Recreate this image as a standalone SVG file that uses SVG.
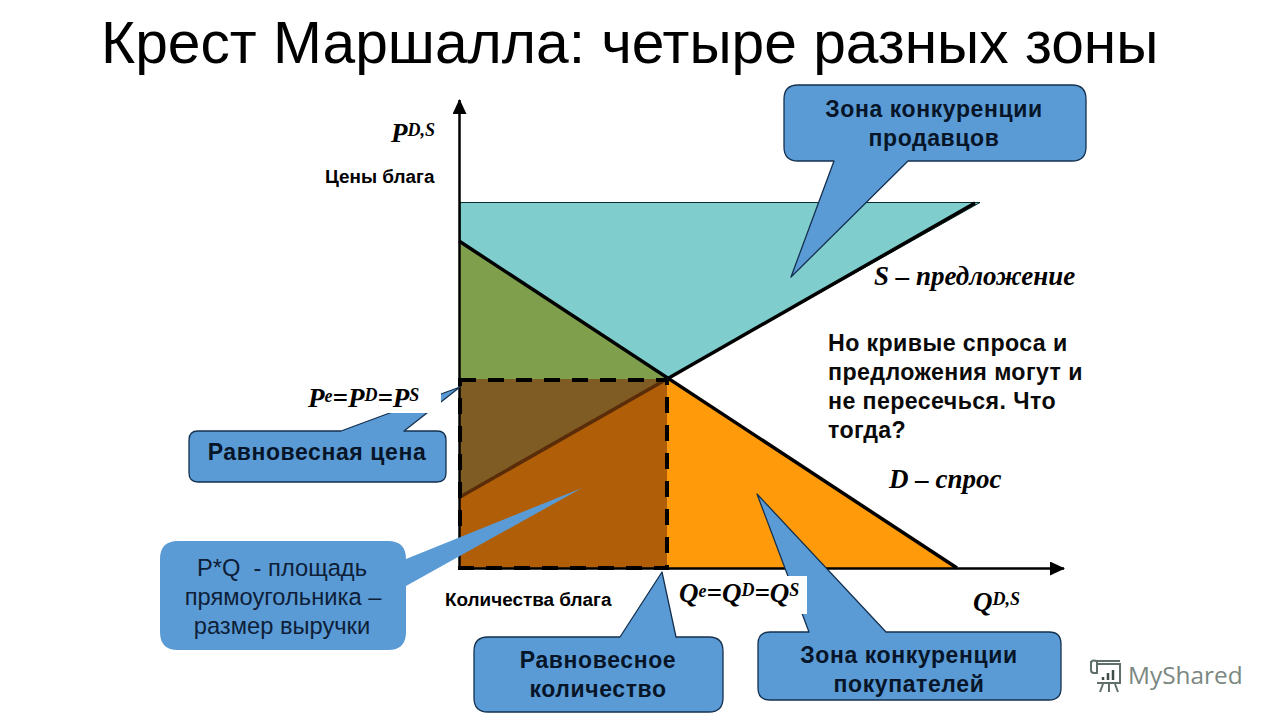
<svg xmlns="http://www.w3.org/2000/svg" width="1280" height="720" viewBox="0 0 1280 720">
<style>
text{font-family:"Liberation Sans",Arial,sans-serif;fill:#000}
.title{font-size:58.700px}
.call{fill:#5b9bd5;stroke:#14304f;stroke-width:1.3;stroke-linejoin:round}
.nostroke{stroke:none}
.cb{font-size:23px;font-weight:bold;fill:#071528;text-anchor:middle;letter-spacing:.6px}
.cr{font-size:23.700px;fill:#0d2038;text-anchor:middle;white-space:pre}
.note{font-size:23.200px;font-weight:bold;fill:#0a0a0a;letter-spacing:.4px}
.ax{font-size:18.900px;font-weight:bold}
.m{font-family:"Liberation Serif","Times New Roman",serif;font-weight:bold;font-style:italic;font-size:27px}
.s{font-size:18px}
</style>
<defs>
<marker id="arr" markerUnits="userSpaceOnUse" markerWidth="15" markerHeight="14" refX="14" refY="7" orient="auto"><path d="M0 0L15 7L0 14Z" fill="#000"/></marker>
</defs>
<text class="title" x="101" y="63">Крест Маршалла: четыре разных зоны</text>
<g id="zones">
<path d="M460 202.500H980L667 379L460 242Z" fill="#7fcdcd" stroke="#0b2a2a" stroke-width="1"/>
<path d="M460 243L667 379H460Z" fill="#7f9f4d"/>
<path d="M460 379H667L460 497Z" fill="#7f5c24"/>
<path d="M460 497L667 379V568H460Z" fill="#b05f08"/>
<path d="M667 379L957 568H667Z" fill="#ff9a0a"/>
</g>
<g id="connectors" fill="none">
<path d="M460 497L667 379" stroke="#5a2c08" stroke-width="3.500"/>
<path d="M667 379L975 203" stroke="#000" stroke-width="3.500"/>
<path d="M459 241L957 568" stroke="#000" stroke-width="3.500"/>
<path d="M459.500 570V100" stroke="#000" stroke-width="2.500" marker-end="url(#arr)"/>
<path d="M459 568.500H1064" stroke="#000" stroke-width="2.500" marker-end="url(#arr)"/>
<path d="M460 380H667V568H460Z" stroke="#000" stroke-width="4" stroke-dasharray="16 12"/>
</g>
<g id="callout-price">
<path class="call" d="M198 431H341L460 387L404 431H437Q446 431 446 440V473Q446 482 437 482H198Q189 482 189 473V440Q189 431 198 431Z"/>
<text class="cb" x="317" y="460">Равновесная цена</text>
</g>
<g id="label-price">
<rect x="300" y="380" width="141" height="33" fill="#fff"/>
<text class="m" x="308" y="407">P<tspan class="s" dy="-5">e</tspan><tspan dy="5">=P</tspan><tspan class="s" dy="-6">D</tspan><tspan dy="6">=P</tspan><tspan class="s" dy="-6">S</tspan></text>
</g>
<g id="callout-revenue">
<path class="call nostroke" d="M178 541H388Q406 541 406 559L582 488L406 586V632Q406 650 388 650H178Q160 650 160 632V559Q160 541 178 541Z"/>
<text class="cr" x="282" y="576">P*Q  - площадь</text>
<text class="cr" x="283" y="605">прямоугольника –</text>
<text class="cr" x="282" y="634">размер выручки</text>
</g>
<g id="callout-quantity">
<path class="call" d="M488 637H620L662 572L676 637H709Q723 637 723 651V698Q723 712 709 712H488Q474 712 474 698V651Q474 637 488 637Z"/>
<text class="cb" x="598" y="668">Равновесное</text>
<text class="cb" x="598" y="697">количество</text>
</g>
<g id="callout-buyers">
<path class="call" d="M770 632H809L757 494L886 632H1049Q1061 632 1061 644V688Q1061 700 1049 700H770Q758 700 758 688V644Q758 632 770 632Z"/>
</g>
<g id="label-quantity">
<rect x="677" y="576" width="130" height="38" fill="#fff"/>
<text class="m" x="679" y="602">Q<tspan class="s" dy="-5">e</tspan><tspan dy="5">=Q</tspan><tspan class="s" dy="-6">D</tspan><tspan dy="6">=Q</tspan><tspan class="s" dy="-6">S</tspan></text>
</g>
<g id="callout-buyers-text">
<text class="cb" x="909" y="663">Зона конкуренции</text>
<text class="cb" x="909" y="692">покупателей</text>
</g>
<g id="callout-sellers">
<path class="call" d="M798 85H1072Q1086 85 1086 99V147Q1086 161 1072 161H908L791 277L834 161H798Q784 161 784 147V99Q784 85 798 85Z"/>
<text class="cb" x="934" y="117">Зона конкуренции</text>
<text class="cb" x="934" y="146">продавцов</text>
</g>
<g id="labels">
<text class="m" x="391" y="142">P<tspan class="s" dy="-6">D,S</tspan></text>
<text class="ax" x="325" y="183">Цены блага</text>
<text class="ax" x="445" y="606">Количества блага</text>
<text class="m" x="973" y="611">Q<tspan class="s" dy="-6">D,S</tspan></text>
<text class="m" x="874" y="285">S – предложение</text>
<text class="m" x="889" y="488">D – спрос</text>
<text class="note" x="828" y="351">Но кривые спроса и</text>
<text class="note" x="828" y="380">предложения могут и</text>
<text class="note" x="828" y="409">не пересечься. Что</text>
<text class="note" x="828" y="438">тогда?</text>
</g>
<g id="logo">
<g fill="none" stroke="#5f6f68" stroke-width="2">
<path d="M1095 661H1120M1091 661V670Q1091 673 1094 673H1097V661M1097 661Q1091 659 1091 664M1097 664H1120V683H1097"/>
<path d="M1103 684L1100 692M1109 684V692M1115 684L1118 692"/>
<path d="M1103 680V677M1108 680V673M1113 680V670" stroke="#3d4c45" stroke-width="2.500"/>
</g>
<text x="1128" y="684" font-size="24.400" style="font-family:'Open Sans','Liberation Sans',sans-serif;fill:#7b8781">MyShared</text>
</g>
</svg>
